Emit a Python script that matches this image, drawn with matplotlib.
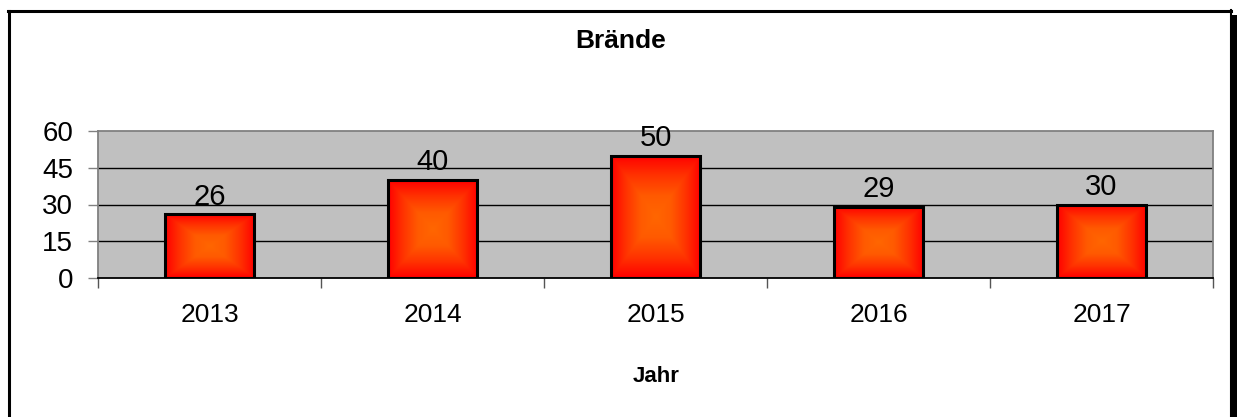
import numpy as np
import matplotlib
matplotlib.use("Agg")
import matplotlib.pyplot as plt
from matplotlib.patches import Rectangle
from matplotlib.lines import Line2D
from matplotlib.colors import LinearSegmentedColormap

years = ["2013", "2014", "2015", "2016", "2017"]
values = [26, 40, 50, 29, 30]
yticks = [0, 15, 30, 45, 60]

plt.rcParams['font.family'] = ['Liberation Sans', 'DejaVu Sans']

W, H = 1237, 417
fig = plt.figure(figsize=(W / 100, H / 100), dpi=100)

def fx(px):
    return px / W

def fy(py):
    return 1 - py / H

ax_left, ax_right, ax_top, ax_bottom = 98, 1213, 131, 278
ax = fig.add_axes([fx(ax_left), fy(ax_bottom), fx(ax_right - ax_left), (ax_bottom - ax_top) / H])
ax.set_facecolor('#C0C0C0')
ax.set_xlim(-0.5, len(years) - 0.5)
ax.set_ylim(0, 60)
ax.set_yticks(yticks)
ax.set_yticklabels([str(v) for v in yticks], fontsize=20)
for v in yticks[1:-1]:
    ax.axhline(v, color='black', lw=1.0, zorder=1)
for s in ['top', 'right', 'left']:
    ax.spines[s].set_color('#808080')
    ax.spines[s].set_linewidth(1.3)
ax.spines['bottom'].set_color('black')
ax.spines['bottom'].set_linewidth(1.3)
ax.spines['top'].set_zorder(0.5)
ax.tick_params(axis='y', length=7, width=1, color='#808080', pad=11)

# x ticks at category boundaries, labels at centers
ax.set_xticks(np.arange(len(years) + 1) - 0.5)
ax.set_xticklabels([])
ax.set_xticks(np.arange(len(years)), minor=True)
ax.set_xticklabels(years, minor=True, fontsize=19)
ax.tick_params(axis='x', which='major', length=7, width=1, color='#555555', direction='out')
ax.tick_params(axis='x', which='minor', length=0, pad=18)

cmap = LinearSegmentedColormap.from_list('fire', ['#FF6600', '#FF5A00', '#FF3300', '#FF0000'])
n = 200
g = np.linspace(-1, 1, n)
X, Y = np.meshgrid(g, g)
grad = np.maximum(np.abs(X), np.abs(Y))

bw = 0.40
for i, v in enumerate(values):
    rect = Rectangle((i - bw / 2, 0), bw, v, facecolor='none', edgecolor='black', lw=2.2, zorder=4)
    ax.add_patch(rect)
    im = ax.imshow(grad, cmap=cmap, extent=(i - bw / 2, i + bw / 2, 0, v), aspect='auto',
                   origin='lower', zorder=3, interpolation='bilinear')
    clip = Rectangle((i - bw / 2, 0), bw, v, transform=ax.transData)
    im.set_clip_path(clip)
    ax.annotate(str(v), (i, v), xytext=(0, 7), textcoords='offset points',
                ha='center', va='baseline', fontsize=21, zorder=5)
ax.set_xlim(-0.5, len(years) - 0.5)
ax.set_ylim(0, 60)

fig.text(fx(621), fy(48), 'Brände', ha='center', va='baseline', fontsize=19, fontweight='bold')
fig.text(fx(656), fy(382), 'Jahr', ha='center', va='baseline', fontsize=16, fontweight='bold')

# frame
fig.add_artist(Line2D([fx(9), fx(9)], [fy(425), fy(11)], color='black', lw=2.2))
fig.add_artist(Line2D([fx(8), fx(1230.5)], [fy(11), fy(11)], color='black', lw=2.2))
fig.add_artist(Line2D([fx(1230.5), fx(1230.5)], [fy(10), fy(425)], color='black', lw=1.5))
fig.add_artist(Rectangle((fx(1232), fy(425)), fx(5), (425 - 15) / H, transform=fig.transFigure,
                         facecolor='black', edgecolor='none'))

fig.savefig('out.png', dpi=100)
